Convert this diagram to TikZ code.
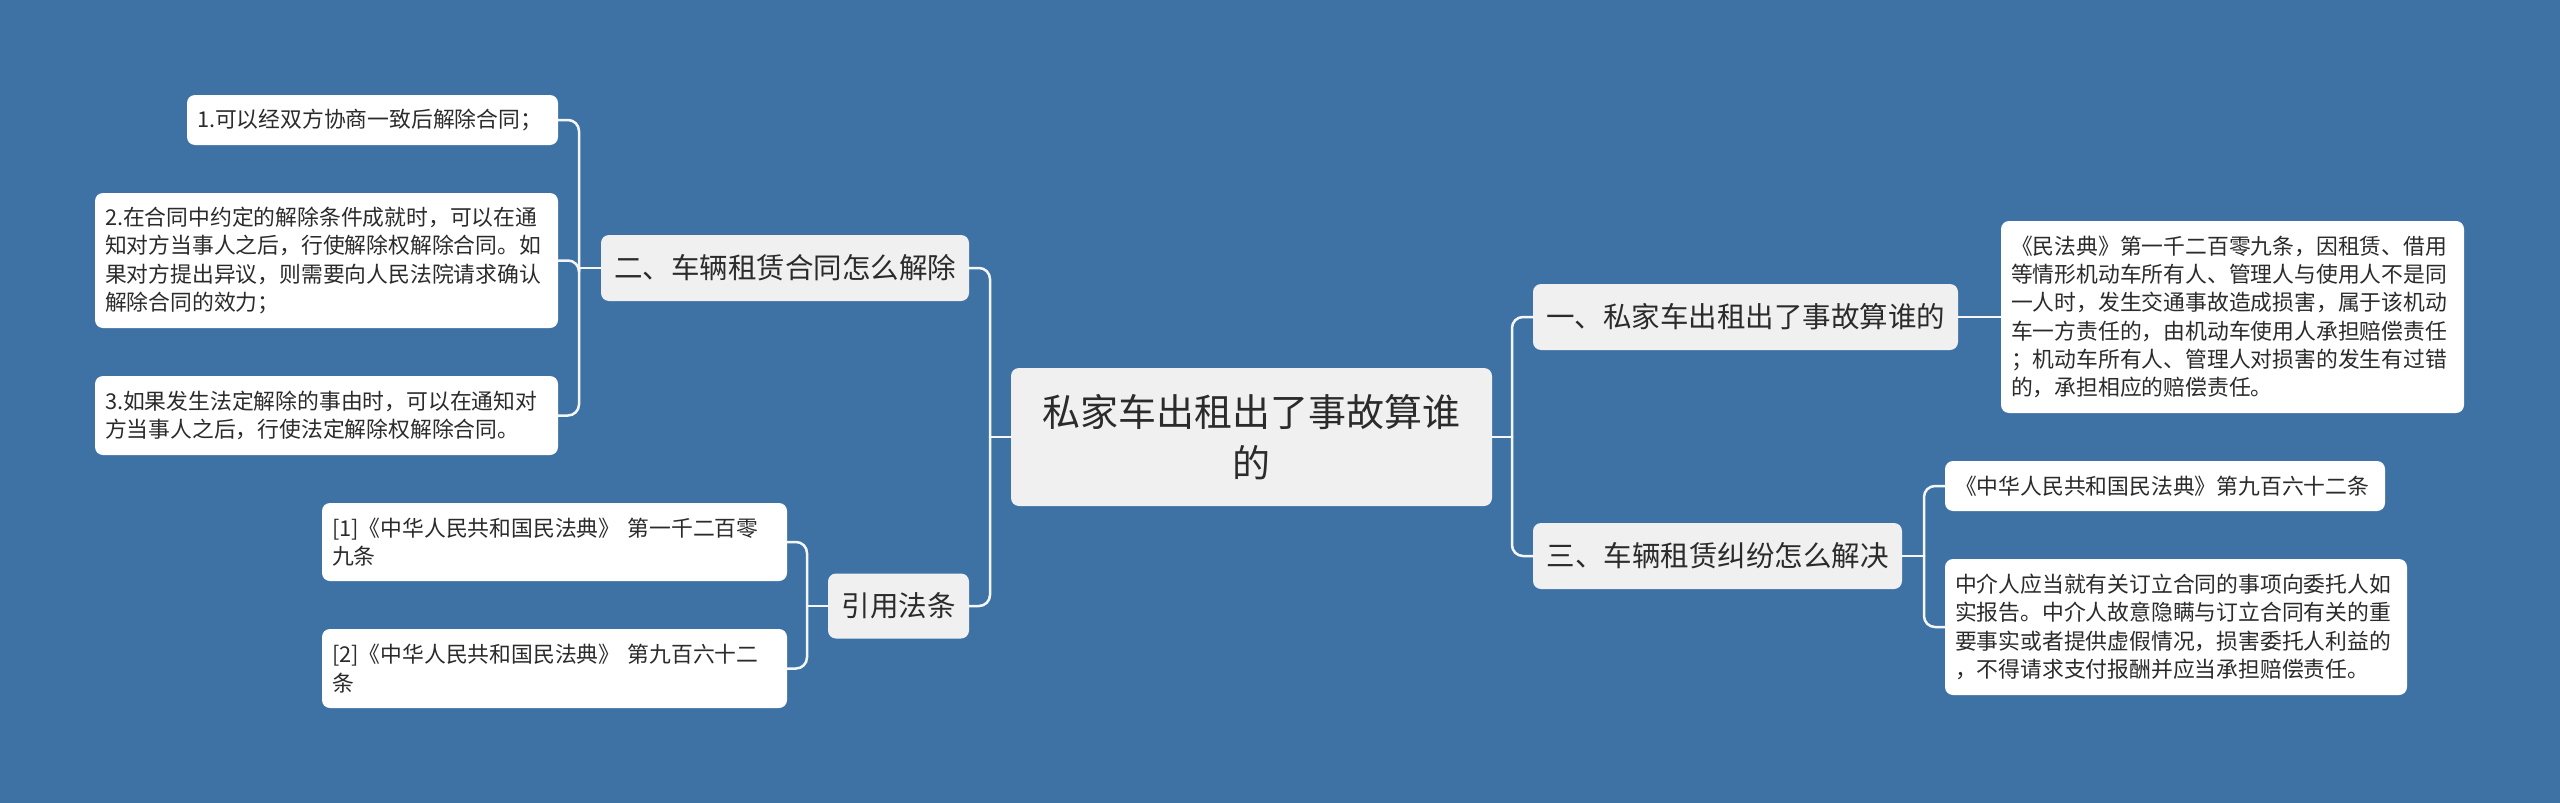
\documentclass[tikz,border=0pt]{standalone}
\usepackage{fontspec}
\setmainfont{Noto Sans CJK SC}
\definecolor{bg}{HTML}{3E72A5}
\definecolor{mainfill}{HTML}{F0F0F0}
\definecolor{txt}{HTML}{2B2B2B}
\definecolor{linec}{HTML}{F4F6F8}
\begin{document}
\begin{tikzpicture}[x=1pt,y=-1pt,
  mainnode/.style={fill=mainfill, rounded corners=8pt, text=txt, inner sep=0pt, align=center,
    font=\fontsize{28.5}{34}\selectfont},
  rootnode/.style={mainnode, font=\fontsize{38}{51}\selectfont},
  leafnode/.style={fill=white, rounded corners=8pt, text=txt, align=left, inner xsep=10pt, inner ysep=0pt,
    font=\fontsize{21.8}{28.3}\selectfont},
  conn/.style={draw=linec, line width=2.5pt, rounded corners=11pt, line cap=round}]
\fill[bg] (0,0) rectangle (2560,803);
\useasboundingbox (0,0) rectangle (2560,803);

% central node
\node[rootnode, minimum width=481pt, minimum height=138pt] (root) at (1251.5,437) {私家车出租出了事故算谁\\的};

% left branch
\node[mainnode, minimum width=368pt, minimum height=66pt] (n2) at (785,268) {二、车辆租赁合同怎么解除};
\node[mainnode, minimum width=141pt, minimum height=65pt] (cite) at (898.5,606) {引用法条};

\node[leafnode, text width=351pt, minimum height=50pt] (l1) at (372.5,120) {1.可以经双方协商一致后解除合同；};
\node[leafnode, text width=443pt, minimum height=135pt] (l2) at (326.5,260.5) {2.在合同中约定的解除条件成就时，可以在通\\知对方当事人之后，行使解除权解除合同。如\\果对方提出异议，则需要向人民法院请求确认\\解除合同的效力；};
\node[leafnode, text width=443pt, minimum height=79pt] (l3) at (326.5,415.5) {3.如果发生法定解除的事由时，可以在通知对\\方当事人之后，行使法定解除权解除合同。};

\node[leafnode, text width=445pt, minimum height=78pt] (r1) at (554.5,542) {[1]《中华人民共和国民法典》 第一千二百零\\九条};
\node[leafnode, text width=445pt, minimum height=79pt] (r2) at (554.5,668.5) {[2]《中华人民共和国民法典》 第九百六十二\\条};

% right branch
\node[mainnode, minimum width=425pt, minimum height=66pt] (n1) at (1745.5,317) {一、私家车出租出了事故算谁的};
\node[mainnode, minimum width=369pt, minimum height=66pt] (n3) at (1717.5,556) {三、车辆租赁纠纷怎么解决};

\node[leafnode, text width=443pt, minimum height=192pt] (t1) at (2232.5,317) {《民法典》第一千二百零九条，因租赁、借用\\等情形机动车所有人、管理人与使用人不是同\\一人时，发生交通事故造成损害，属于该机动\\车一方责任的，由机动车使用人承担赔偿责任\\；机动车所有人、管理人对损害的发生有过错\\的，承担相应的赔偿责任。};
\node[leafnode, text width=420pt, minimum height=50pt] (t2) at (2165,486) {《中华人民共和国民法典》第九百六十二条};
\node[leafnode, text width=442pt, minimum height=136pt] (t3) at (2176,627) {中介人应当就有关订立合同的事项向委托人如\\实报告。中介人故意隐瞒与订立合同有关的重\\要事实或者提供虚假情况，损害委托人利益的\\，不得请求支付报酬并应当承担赔偿责任。};

% connectors
\coordinate (bl) at (990,437);
\coordinate (br) at (1512,437);
\coordinate (b2) at (579,268);
\coordinate (bc) at (807,606);
\coordinate (b3) at (1924,556);

\draw[conn] (root.west) -- (bl);
\draw[conn] (bl) |- (n2.east);
\draw[conn] (bl) |- (cite.east);

\draw[conn] (root.east) -- (br);
\draw[conn] (br) |- (n1.west);
\draw[conn] (br) |- (n3.west);

\draw[conn] (n2.west) -- (b2);
\draw[conn] (b2) |- (l1.east);
\draw[conn] (b2) |- (l2.east);
\draw[conn] (b2) |- (l3.east);

\draw[conn] (cite.west) -- (bc);
\draw[conn] (bc) |- (r1.east);
\draw[conn] (bc) |- (r2.east);

\draw[conn] (n1.east) -- (t1.west);

\draw[conn] (n3.east) -- (b3);
\draw[conn] (b3) |- (t2.west);
\draw[conn] (b3) |- (t3.west);
\end{tikzpicture}
\end{document}
